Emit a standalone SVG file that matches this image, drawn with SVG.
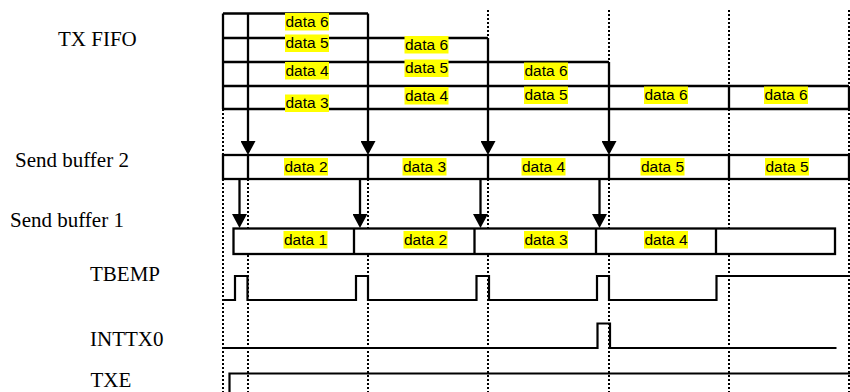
<svg xmlns="http://www.w3.org/2000/svg" width="850" height="392" viewBox="0 0 850 392">
<style>
.lbl{font-family:"Liberation Serif","Times New Roman",serif;font-size:21px;fill:#000}
.dt{font-family:"Liberation Sans",Arial,sans-serif;font-size:15.5px;fill:#000;text-anchor:middle}
.hl{fill:#ffff00}
.ln{stroke:#000;stroke-width:2.3;fill:none}
.box{stroke:#000;stroke-width:2.3;fill:#fff}
.dot{stroke:#000;stroke-width:2;stroke-dasharray:2 2;fill:none}
.sig{stroke:#000;stroke-width:2.2;fill:none}
.arr{stroke:#000;stroke-width:2.3;fill:none;marker-end:url(#ah)}
</style>
<defs>
<marker id="ah" markerUnits="userSpaceOnUse" markerWidth="14" markerHeight="15" refX="11" refY="7.5" orient="auto">
<path d="M0,0 L14,7.5 L0,15 Z" fill="#000"/>
</marker>
</defs>
<rect width="850" height="392" fill="#fff"/>

<g id="grid">
<path class="dot" d="M223,109V155M223,179V392M248,179V392M368,179V392M488,10V38M488,179V392M609,10V62M609,179V392M729,10V86M729,109V155M729,179V392M849,10V86M849,109V155M849,179V392"/>
</g>

<g id="row-labels">
<text class="lbl" x="58" y="45.7">TX FIFO</text>
<text class="lbl" x="15" y="166.7">Send buffer 2</text>
<text class="lbl" x="10" y="226.7">Send buffer 1</text>
<text class="lbl" x="90" y="280.7">TBEMP</text>
<text class="lbl" x="90" y="345.5">INTTX0</text>
<text class="lbl" x="90.5" y="387">TXE</text>
</g>

<g id="tx-fifo">
<path class="ln" d="M223,13.5H368M223,38H488M223,62H609M223,86H849M223,109H849M223,13.5V109M729,86V109M849,86V109"/>
<rect class="hl" x="285" y="13" width="44" height="17.5"/>
<rect class="hl" x="285" y="34.5" width="44" height="17.5"/>
<rect class="hl" x="285" y="62" width="44" height="17.5"/>
<rect class="hl" x="285" y="94.5" width="44" height="17.5"/>
<rect class="hl" x="404.5" y="36" width="44" height="17.5"/>
<rect class="hl" x="404.5" y="59.5" width="44" height="17.5"/>
<rect class="hl" x="404.5" y="87" width="44" height="17.5"/>
<rect class="hl" x="524" y="62.5" width="44" height="17.5"/>
<rect class="hl" x="524" y="86.5" width="44" height="17.5"/>
<rect class="hl" x="644" y="86.5" width="44" height="17.5"/>
<rect class="hl" x="764" y="86.5" width="44" height="17.5"/>
<text class="dt" x="307" y="26.5">data 6</text>
<text class="dt" x="307" y="48">data 5</text>
<text class="dt" x="307" y="75.5">data 4</text>
<text class="dt" x="307" y="108">data 3</text>
<text class="dt" x="426.5" y="49.5">data 6</text>
<text class="dt" x="426.5" y="73">data 5</text>
<text class="dt" x="426.5" y="100.5">data 4</text>
<text class="dt" x="546" y="76">data 6</text>
<text class="dt" x="546" y="100">data 5</text>
<text class="dt" x="666" y="100">data 6</text>
<text class="dt" x="786" y="100">data 6</text>
</g>

<g id="send-buffer-2">
<rect class="box" x="223" y="155" width="626" height="24"/>
<path class="ln" d="M248,155V179M368,155V179M488,155V179M609,155V179M729,155V179"/>
<rect class="hl" x="284" y="158" width="44" height="17.5"/>
<rect class="hl" x="402.5" y="158" width="44" height="17.5"/>
<rect class="hl" x="521.5" y="158" width="44" height="17.5"/>
<rect class="hl" x="640.5" y="158" width="44" height="17.5"/>
<rect class="hl" x="765" y="158" width="44" height="17.5"/>
<text class="dt" x="306" y="171.5">data 2</text>
<text class="dt" x="424.5" y="171.5">data 3</text>
<text class="dt" x="543.5" y="171.5">data 4</text>
<text class="dt" x="662.5" y="171.5">data 5</text>
<text class="dt" x="787" y="171.5">data 5</text>
</g>

<g id="send-buffer-1">
<rect class="box" x="233.5" y="228.5" width="601.5" height="25.5"/>
<path class="ln" d="M354,228.5V254M474.5,228.5V254M596,228.5V254M716,228.5V254"/>
<rect class="hl" x="283.5" y="231" width="44" height="17.5"/>
<rect class="hl" x="403.5" y="231" width="44" height="17.5"/>
<rect class="hl" x="524" y="231" width="44" height="17.5"/>
<rect class="hl" x="644" y="231" width="44" height="17.5"/>
<text class="dt" x="305.5" y="244.5">data 1</text>
<text class="dt" x="425.5" y="244.5">data 2</text>
<text class="dt" x="546" y="244.5">data 3</text>
<text class="dt" x="666" y="244.5">data 4</text>
</g>

<g id="connectors">
<path class="arr" d="M248,13.5V152"/>
<path class="arr" d="M368,13.5V152"/>
<path class="arr" d="M488,38V152"/>
<path class="arr" d="M609,62V152"/>
<path class="arr" d="M239.5,179V225"/>
<path class="arr" d="M360,179V225"/>
<path class="arr" d="M480.5,179V225"/>
<path class="arr" d="M599.5,179V225"/>
</g>

<g id="tbemp">
<path class="sig" d="M223,300H235V276H247.5V300H356V276H368V300H476.5V276H489V300H597V276H609V300H716.5V276H849"/>
</g>

<g id="inttx0">
<path class="sig" d="M223,348H597.5V323.5H610V348H836.5"/>
</g>

<g id="txe">
<path class="sig" d="M229.5,392V373.5H850"/>
</g>
</svg>
